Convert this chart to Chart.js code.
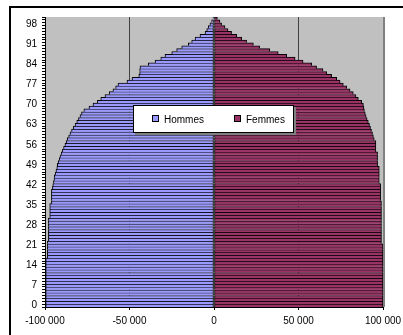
<!DOCTYPE html>
<html>
<head>
<meta charset="utf-8">
<script src="https://cdn.jsdelivr.net/npm/chart.js@4.4.1/dist/chart.umd.min.js"></script>
<style>
  body { margin: 0; background: #fff; }
  #wrap { position: relative; width: 403px; height: 335px; overflow: hidden; }
  #frame { position: absolute; left: 9px; top: 6px; width: 420px; height: 360px;
           border-top: 2px solid #000; border-left: 2px solid #000; pointer-events: none; }
  #legend { position: absolute; left: 133px; top: 105px; width: 159px; height: 26px;
            background: #fff; border: 1px solid #000; box-shadow: 2px 2px 0 #808080;
            font: 10px "Liberation Sans", Arial, sans-serif; color: #000; }
  #legend .item { position: absolute; top: 8px; line-height: 11px; white-space: nowrap; }
  #legend .box { display: inline-block; width: 5px; height: 5px; border: 1px solid #000;
                 margin-right: 5px; vertical-align: 1px; }
</style>
</head>
<body>
<div id="wrap">
  <canvas id="pyramide" width="403" height="335"></canvas>
  <div id="frame"></div>
  <div id="legend"></div>
</div>
<script>
// ages 0 .. 100
var ages = [];
for (var a = 0; a <= 100; a++) ages.push(a);

var tickAges = [0, 7, 14, 21, 28, 35, 42, 49, 56, 63, 70, 77, 84, 91, 98];
var xTicks = [-100000, -50000, 0, 50000, 100000];

var seriesNames = ['Hommes', 'Femmes'];

// hommes en négatif (côté gauche)
var hommes = [
  -99600, -99600, -99600, -99600, -99600, -99600, -99600, -99600, -99600, -99600,
  -99600, -99600, -99600, -99600, -99600, -99600, -99600, -98600, -98600, -98600,
  -98600, -98600, -98600, -98000, -98000, -98000, -98000, -98000, -98000, -98000,
  -98000, -97200, -97200, -97200, -97200, -97200, -96200, -96200, -96200, -96200,
  -96200, -95600, -95400, -95000, -94700, -94500, -94000, -93500, -93000, -92700,
  -92200, -91600, -91100, -90400, -89700, -89000, -88200, -87500, -86800, -86000,
  -85200, -84300, -83200, -82200, -81200, -80200, -79300, -78400, -77000, -74000,
  -71600, -69000, -67000, -64500, -62000, -59800, -58200, -56800, -51500, -48500,
  -44500, -44000, -44000, -43800, -38900, -34900, -31500, -29000, -25000, -22100,
  -19100, -15200, -13200, -11200, -8300, -5300, -4300, -3400, -2400, -1400,
  -600
];

var femmes = [
  100000, 100000, 100000, 100000, 100000, 100000, 100000, 100000, 100000, 100000,
  100000, 100000, 100000, 100000, 100000, 100000, 100000, 100000, 100000, 100000,
  100000, 100000, 99100, 99100, 99100, 99100, 99100, 99100, 99100, 99100,
  99100, 99100, 99100, 99100, 99100, 99100, 99100, 98600, 98600, 98600,
  98600, 98600, 98600, 97800, 97800, 97800, 97800, 97800, 97800, 96800,
  96800, 96800, 96800, 96800, 95800, 95800, 95800, 95800, 94800, 94300,
  93800, 93200, 92600, 92000, 91300, 90600, 90000, 89500, 89000, 88700,
  88400, 87400, 85400, 84000, 82400, 80500, 78500, 76500, 74600, 72600,
  69600, 66700, 64500, 60700, 57800, 52700, 48000, 43000, 38000, 33000,
  27000, 23300, 19300, 16400, 13400, 10400, 8300, 6500, 4500, 3500,
  2000
];

var colors = ['#9999FF', '#993366'];

function fmt(v) {
  var s = String(Math.abs(v)).replace(/\B(?=(\d{3})+(?!\d))/g, ' ');
  return (v < 0 ? '-' : '') + s;
}

Chart.defaults.font.family = '"Liberation Sans", Arial, sans-serif';
Chart.defaults.font.size = 10;
Chart.defaults.color = '#000';

// fond gris de la zone de tracé + bord droit
var plotBg = {
  id: 'plotBg',
  beforeDraw: function(chart) {
    var a = chart.chartArea, c = chart.ctx;
    c.save();
    c.fillStyle = '#C0C0C0';
    c.fillRect(a.left, a.top, a.right - a.left, a.bottom - a.top);
    c.restore();
  },
  afterDatasetsDraw: function(chart) {
    var a = chart.chartArea, c = chart.ctx;
    c.save();
    c.strokeStyle = '#808080';
    c.lineWidth = 2;
    c.beginPath();
    c.moveTo(a.right + 1, a.top);
    c.lineTo(a.right + 1, a.bottom);
    c.stroke();
    c.restore();
  }
};

var ctx = document.getElementById('pyramide');

var chart = new Chart(ctx, {
  type: 'bar',
  data: {
    labels: ages,
    datasets: [
      {
        label: seriesNames[0],
        data: hommes,
        backgroundColor: colors[0],
        borderColor: '#000',
        borderWidth: { top: 1, bottom: 0, left: 1, right: 1 },
        borderSkipped: false,
        barPercentage: 1,
        categoryPercentage: 1,
        stack: 'p'
      },
      {
        label: seriesNames[1],
        data: femmes,
        backgroundColor: colors[1],
        borderColor: '#000',
        borderWidth: { top: 1, bottom: 0, left: 1, right: 1 },
        borderSkipped: false,
        barPercentage: 1,
        categoryPercentage: 1,
        stack: 'p'
      }
    ]
  },
  options: {
    indexAxis: 'y',
    responsive: false,
    animation: false,
    layout: { padding: { left: 0, top: 17, right: 20, bottom: 0 } },
    plugins: {
      legend: { display: false },
      tooltip: { enabled: false }
    },
    scales: {
      y: {
        type: 'category',
        reverse: true,
        stacked: true,
        afterFit: function(scale) { scale.width = 45; scale.paddingTop = 0; scale.paddingBottom = 0; },
        grid: { drawOnChartArea: false, drawTicks: true, tickLength: 3, color: '#000' },
        border: { color: '#000', width: 1 },
        ticks: {
          autoSkip: false,
          padding: 5,
          callback: function(value, index) {
            return tickAges.indexOf(ages[index]) >= 0 ? String(ages[index]) : '';
          }
        }
      },
      x: {
        type: 'linear',
        stacked: true,
        min: xTicks[0],
        max: xTicks[xTicks.length - 1],
        afterFit: function(scale) { scale.height = 28; scale.paddingLeft = 0; scale.paddingRight = 0; },
        afterBuildTicks: function(scale) {
          scale.ticks = xTicks.map(function(v) { return { value: v }; });
        },
        grid: {
          color: function(c) {
            if (!c.tick) return 'rgba(0,0,0,0)';
            return Math.abs(c.tick.value) === 50000 ? '#404040' : 'rgba(0,0,0,0)';
          },
          tickColor: '#000',
          tickLength: 3
        },
        border: { color: '#000', width: 1 },
        ticks: {
          padding: 5,
          maxRotation: 0,
          callback: function(value) { return fmt(value); }
        }
      }
    }
  },
  plugins: [plotBg]
});

// légende dans la zone de tracé
var lg = document.getElementById('legend');
var offsets = [18, 100];
chart.data.datasets.forEach(function(ds, i) {
  var it = document.createElement('div');
  it.className = 'item';
  it.style.left = offsets[i] + 'px';
  var b = document.createElement('span');
  b.className = 'box';
  b.style.background = ds.backgroundColor;
  it.appendChild(b);
  it.appendChild(document.createTextNode(ds.label));
  lg.appendChild(it);
});
</script>
</body>
</html>
